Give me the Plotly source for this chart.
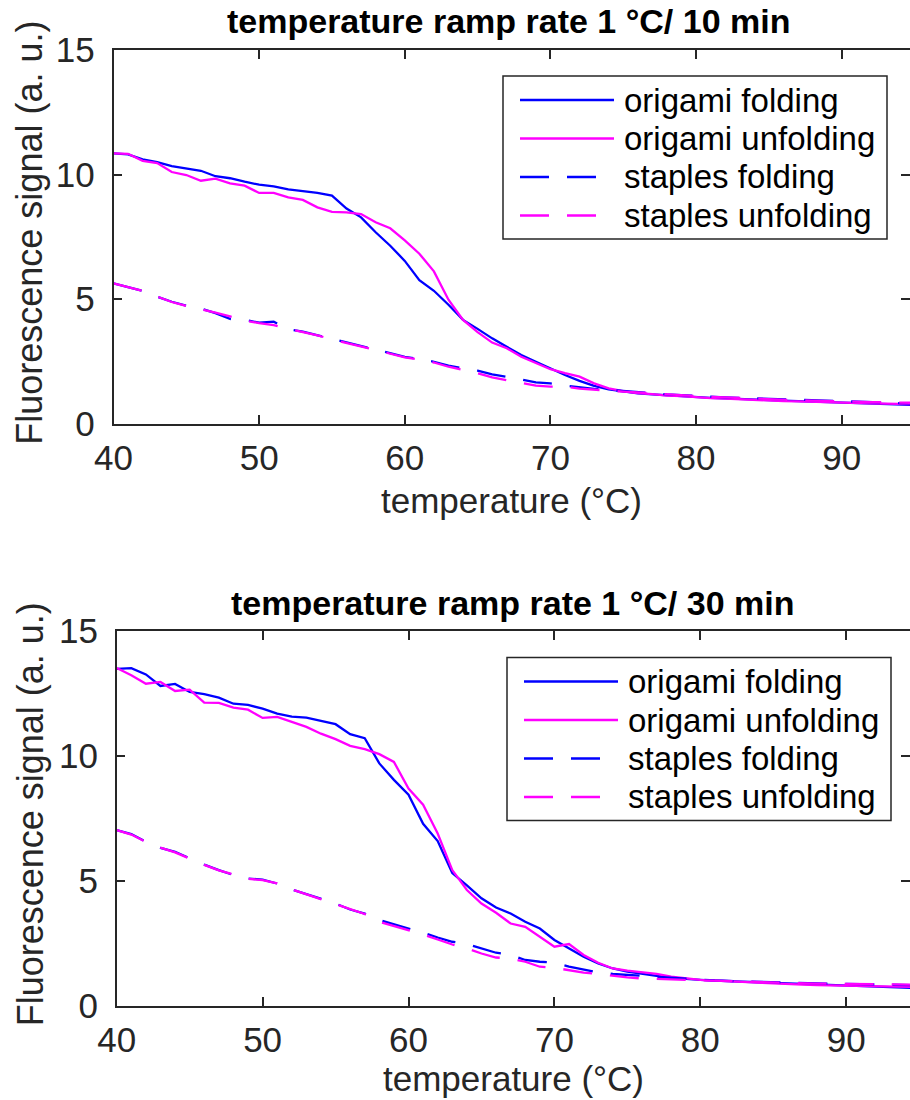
import plotly.graph_objects as go

W, H = 910, 1100

# ---------------- data ----------------
temperature = list(range(40, 96))
x_ticks = [40, 50, 60, 70, 80, 90]
y_ticks = [0, 5, 10, 15]
series_names = ["origami folding", "origami unfolding", "staples folding", "staples unfolding"]
titles = ["temperature ramp rate 1 °C/ 10 min", "temperature ramp rate 1 °C/ 30 min"]
x_label = "temperature (°C)"
y_label = "Fluorescence signal (a. u.)"

# ramp 1 °C / 10 min
ramp10_origami_folding = [
    10.85, 10.81, 10.61, 10.50, 10.34, 10.23, 10.15, 9.93, 9.85, 9.71,
    9.59, 9.52, 9.40, 9.33, 9.26, 9.15, 8.63, 8.28, 7.68, 7.14,
    6.53, 5.76, 5.33, 4.77, 4.16, 3.80, 3.42, 3.08, 2.75, 2.48,
    2.21, 1.95, 1.71, 1.51, 1.37, 1.28, 1.21, 1.17, 1.13, 1.09,
    1.05, 1.03, 1.01, 0.98, 0.96, 0.94, 0.92, 0.90, 0.88, 0.86,
    0.84, 0.82, 0.80, 0.78, 0.76, 0.74]
ramp10_origami_unfolding = [
    10.85, 10.83, 10.55, 10.46, 10.10, 9.98, 9.75, 9.83, 9.64, 9.55,
    9.26, 9.26, 9.08, 8.98, 8.68, 8.50, 8.48, 8.41, 8.08, 7.84,
    7.35, 6.82, 6.11, 4.97, 4.16, 3.67, 3.25, 3.02, 2.68, 2.42,
    2.18, 2.02, 1.88, 1.61, 1.41, 1.30, 1.22, 1.18, 1.12, 1.10,
    1.05, 1.02, 1.00, 0.97, 0.95, 0.93, 0.90, 0.89, 0.87, 0.86,
    0.84, 0.83, 0.81, 0.80, 0.78, 0.77]
ramp10_staples_folding = [
    5.63, 5.49, 5.33, 5.09, 4.89, 4.73, 4.62, 4.43, 4.20, 4.16,
    4.05, 4.09, 3.78, 3.69, 3.55, 3.39, 3.25, 3.11, 2.98, 2.82,
    2.68, 2.59, 2.48, 2.32, 2.21, 2.12, 1.97, 1.88, 1.77, 1.65,
    1.61, 1.52, 1.45, 1.39, 1.35, 1.30, 1.25, 1.21, 1.17, 1.14,
    1.10, 1.08, 1.05, 1.03, 1.01, 0.99, 0.96, 0.94, 0.92, 0.90,
    0.88, 0.86, 0.84, 0.83, 0.82, 0.80]
ramp10_staples_unfolding = [
    5.63, 5.48, 5.33, 5.10, 4.88, 4.72, 4.60, 4.45, 4.30, 4.14,
    4.03, 3.95, 3.80, 3.68, 3.54, 3.38, 3.24, 3.10, 2.97, 2.80,
    2.66, 2.57, 2.45, 2.28, 2.15, 2.02, 1.85, 1.75, 1.65, 1.52,
    1.48, 1.48, 1.40, 1.35, 1.32, 1.28, 1.24, 1.20, 1.16, 1.13,
    1.10, 1.07, 1.05, 1.02, 1.00, 0.98, 0.95, 0.93, 0.92, 0.90,
    0.89, 0.87, 0.86, 0.85, 0.84, 0.83]

# ramp 1 °C / 30 min
ramp30_origami_folding = [
    13.48, 13.51, 13.26, 12.80, 12.88, 12.56, 12.47, 12.33, 12.09, 12.04,
    11.89, 11.69, 11.57, 11.53, 11.40, 11.27, 10.87, 10.71, 9.70, 9.04,
    8.45, 7.28, 6.59, 5.31, 4.82, 4.30, 3.93, 3.69, 3.36, 3.09,
    2.63, 2.29, 1.96, 1.69, 1.49, 1.36, 1.29, 1.19, 1.11, 1.06,
    1.03, 1.00, 0.98, 0.95, 0.92, 0.89, 0.87, 0.86, 0.84, 0.82,
    0.80, 0.78, 0.76, 0.73, 0.71, 0.70]
ramp30_origami_unfolding = [
    13.52, 13.23, 12.89, 12.96, 12.60, 12.65, 12.13, 12.12, 11.93, 11.85,
    11.52, 11.56, 11.36, 11.16, 10.89, 10.67, 10.40, 10.27, 10.07, 9.76,
    8.69, 8.05, 6.89, 5.43, 4.63, 4.09, 3.72, 3.29, 3.16, 2.76,
    2.36, 2.47, 2.03, 1.72, 1.49, 1.40, 1.34, 1.27, 1.16, 1.08,
    1.03, 1.00, 0.97, 0.93, 0.90, 0.87, 0.85, 0.84, 0.82, 0.81,
    0.80, 0.79, 0.78, 0.77, 0.76, 0.75]
ramp30_staples_folding = [
    7.03, 6.87, 6.56, 6.32, 6.16, 5.89, 5.65, 5.43, 5.23, 5.09,
    5.05, 4.89, 4.65, 4.47, 4.27, 4.09, 3.85, 3.69, 3.43, 3.27,
    3.09, 2.92, 2.73, 2.56, 2.47, 2.29, 2.12, 2.03, 1.83, 1.76,
    1.72, 1.56, 1.43, 1.33, 1.27, 1.23, 1.19, 1.16, 1.13, 1.08,
    1.03, 1.01, 0.99, 0.97, 0.95, 0.93, 0.92, 0.90, 0.89, 0.88,
    0.87, 0.86, 0.85, 0.84, 0.83, 0.82]
ramp30_staples_unfolding = [
    7.03, 6.85, 6.56, 6.33, 6.14, 5.88, 5.64, 5.42, 5.24, 5.08,
    5.03, 4.90, 4.66, 4.46, 4.26, 4.08, 3.85, 3.67, 3.36, 3.20,
    3.03, 2.85, 2.65, 2.45, 2.29, 2.09, 1.93, 1.89, 1.76, 1.56,
    1.52, 1.43, 1.32, 1.27, 1.19, 1.13, 1.09, 1.07, 1.05, 1.04,
    1.03, 1.01, 0.99, 0.96, 0.94, 0.91, 0.90, 0.89, 0.88, 0.88,
    0.87, 0.86, 0.86, 0.85, 0.85, 0.84]

# ---------------- styling / layout ----------------
BLUE, MAGENTA = "#0000FF", "#FF00FF"
DASH = "29px,18px"
LW = 2.3
styles = [dict(color=BLUE, dash="solid"), dict(color=MAGENTA, dash="solid"),
          dict(color=BLUE, dash=DASH), dict(color=MAGENTA, dash=DASH)]
AX_COL = "#262626"
FONT = "Liberation Sans, Arial, Helvetica, sans-serif"


def px(x):
    return x / W


def py(y):
    return 1 - y / H


panels = [
    dict(suffix="", series=[ramp10_origami_folding, ramp10_origami_unfolding,
                            ramp10_staples_folding, ramp10_staples_unfolding],
         left=113.5, top=50, bottom=423.5, xmax=94.69, title_x=508, dy=0, dx=0,
         xlab_y=500),
    dict(suffix="2", series=[ramp30_origami_folding, ramp30_origami_unfolding,
                             ramp30_staples_folding, ramp30_staples_unfolding],
         left=116.7, top=631, bottom=1005.7, xmax=94.37, title_x=512, dy=581.5, dx=4,
         xlab_y=1078),
]

fig = go.Figure()
shapes, annotations = [], []

for k, p in enumerate(panels):
    for name, vals, st in zip(series_names, p["series"], styles):
        fig.add_trace(go.Scatter(
            x=temperature, y=vals, name=name, mode="lines",
            line=dict(color=st["color"], dash=st["dash"], width=LW),
            xaxis="x" + p["suffix"], yaxis="y" + p["suffix"], showlegend=False,
            hoverinfo="skip"))

    axis_common = dict(showgrid=False, zeroline=False, showline=True, linecolor=AX_COL,
                       linewidth=1.5, mirror="ticks", ticks="inside", ticklen=9,
                       tickwidth=1.5, tickcolor=AX_COL, automargin=False,
                       tickfont=dict(family=FONT, size=35, color=AX_COL))
    fig.layout["xaxis" + p["suffix"]] = dict(
        axis_common, domain=[px(p["left"]), 1], range=[40, p["xmax"]],
        tickvals=x_ticks, anchor="y" + p["suffix"], ticklabelstandoff=3)
    fig.layout["yaxis" + p["suffix"]] = dict(
        axis_common, domain=[py(p["bottom"]), py(p["top"])], range=[0, 15],
        tickvals=y_ticks, anchor="x" + p["suffix"], ticklabelstandoff=10)

    dy, dx = p["dy"], p["dx"]
    # title
    annotations.append(dict(text="<b>" + titles[k] + "</b>", xref="paper", yref="paper",
                            x=px(p["title_x"]), y=py(21 + dy), xanchor="center", yanchor="middle",
                            showarrow=False, font=dict(family=FONT, size=34, color="#000000")))
    # axis labels
    annotations.append(dict(text=x_label, xref="paper", yref="paper",
                            x=px((p["left"] + 910) / 2), y=py(p["xlab_y"]), xanchor="center",
                            yanchor="middle", showarrow=False, borderpad=0,
                            font=dict(family=FONT, size=35, color=AX_COL)))
    annotations.append(dict(text=y_label, xref="paper", yref="paper", textangle=-90,
                            x=px(30), y=py((p["top"] + p["bottom"]) / 2 - 4), xanchor="center",
                            yanchor="middle", showarrow=False,
                            font=dict(family=FONT, size=36, color=AX_COL)))
    # legend box
    shapes.append(dict(type="rect", xref="paper", yref="paper",
                       x0=px(503 + dx), x1=px(887 + dx), y0=py(76 + dy), y1=py(239 + dy),
                       line=dict(color=AX_COL, width=1.5), fillcolor="white", layer="above"))
    for i, (name, st) in enumerate(zip(series_names, styles)):
        yy = 100 + i * 38.5 + dy
        shapes.append(dict(type="line", xref="paper", yref="paper",
                           x0=px(520 + dx), x1=px(614 + dx), y0=py(yy), y1=py(yy),
                           line=dict(color=st["color"], dash=st["dash"], width=LW), layer="above"))
        annotations.append(dict(text=name, xref="paper", yref="paper",
                                x=px(622 + dx), y=py(yy), xanchor="left", yanchor="middle",
                                showarrow=False,
                                font=dict(family=FONT, size=33, color="#000000")))

fig.update_layout(width=W, height=H, margin=dict(l=0, r=0, t=0, b=0, autoexpand=False),
                  paper_bgcolor="white", plot_bgcolor="white",
                  shapes=shapes, annotations=annotations, showlegend=False)

fig.write_html("out.html")
